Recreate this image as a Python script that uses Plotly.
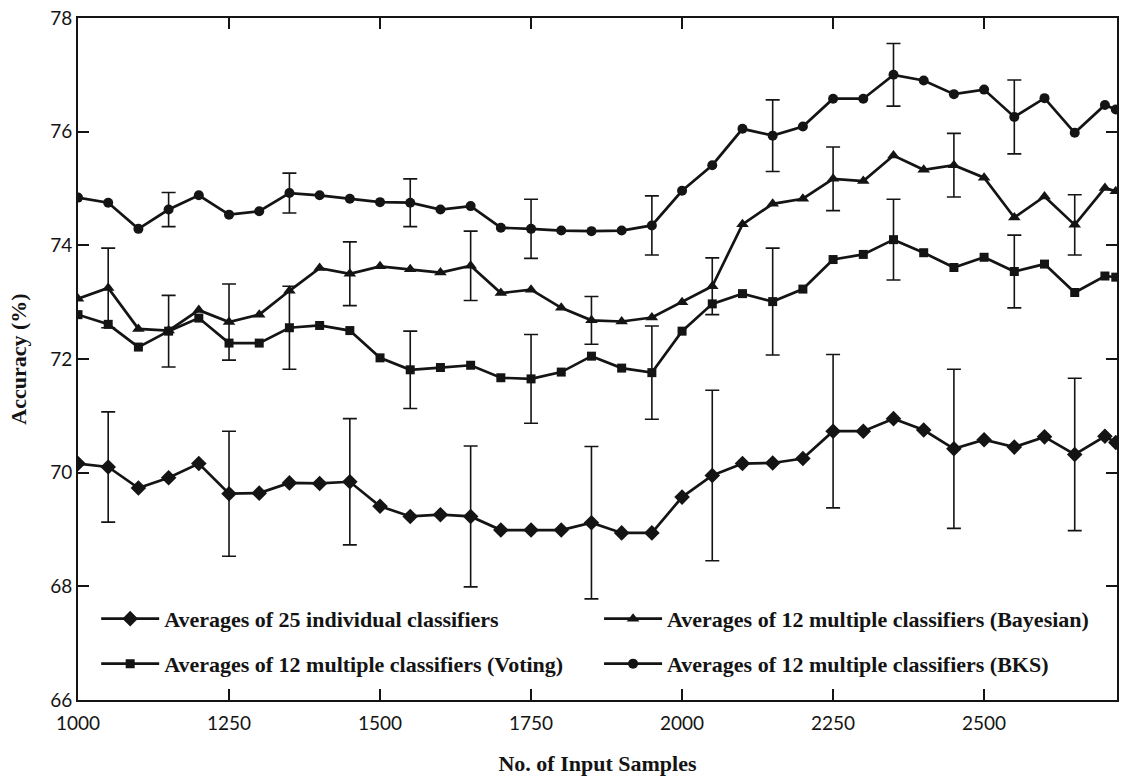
import plotly.graph_objects as go

# ---- data ----
samples = [1000, 1050, 1100, 1150, 1200, 1250, 1300, 1350, 1400, 1450,
           1500, 1550, 1600, 1650, 1700, 1750, 1800, 1850, 1900, 1950,
           2000, 2050, 2100, 2150, 2200, 2250, 2300, 2350, 2400, 2450,
           2500, 2550, 2600, 2650, 2700, 2718]

individual = [70.16, 70.10, 69.73, 69.91, 70.16, 69.63, 69.64, 69.82, 69.81, 69.84,
              69.41, 69.23, 69.26, 69.23, 68.99, 68.99, 68.99, 69.12, 68.94, 68.94,
              69.57, 69.95, 70.16, 70.17, 70.25, 70.73, 70.73, 70.95, 70.75, 70.42,
              70.58, 70.45, 70.63, 70.32, 70.64, 70.53]

bayesian = [73.06, 73.25, 72.53, 72.50, 72.86, 72.65, 72.78, 73.20, 73.60, 73.50,
            73.63, 73.58, 73.52, 73.64, 73.16, 73.22, 72.90, 72.68, 72.66, 72.73,
            73.00, 73.28, 74.37, 74.73, 74.82, 75.17, 75.13, 75.58, 75.33, 75.41,
            75.19, 74.49, 74.86, 74.36, 75.01, 74.95]

voting = [72.78, 72.61, 72.21, 72.49, 72.72, 72.28, 72.28, 72.55, 72.59, 72.50,
          72.02, 71.81, 71.85, 71.89, 71.67, 71.65, 71.77, 72.05, 71.84, 71.76,
          72.49, 72.97, 73.15, 73.01, 73.23, 73.75, 73.84, 74.10, 73.87, 73.61,
          73.79, 73.54, 73.67, 73.17, 73.46, 73.44]

bks = [74.84, 74.75, 74.29, 74.63, 74.88, 74.54, 74.60, 74.92, 74.88, 74.82,
       74.76, 74.75, 74.63, 74.69, 74.31, 74.29, 74.26, 74.25, 74.26, 74.35,
       74.96, 75.41, 76.05, 75.93, 76.09, 76.58, 76.58, 77.00, 76.90, 76.66,
       76.74, 76.26, 76.59, 75.98, 76.47, 76.39]

# error bars (sample position, +/- half range)
individual_err_x = [1050, 1250, 1450, 1650, 1850, 2050, 2250, 2450, 2650]
individual_err = [0.97, 1.10, 1.11, 1.24, 1.34, 1.50, 1.35, 1.40, 1.34]

bayesian_err_x = [1050, 1250, 1450, 1650, 1850, 2050, 2250, 2450, 2650]
bayesian_err = [0.70, 0.67, 0.56, 0.61, 0.42, 0.50, 0.56, 0.56, 0.53]

voting_err_x = [1150, 1350, 1550, 1750, 1950, 2150, 2350, 2550]
voting_err = [0.63, 0.73, 0.68, 0.78, 0.82, 0.94, 0.71, 0.64]

bks_err_x = [1150, 1350, 1550, 1750, 1950, 2150, 2350, 2550]
bks_err = [0.30, 0.35, 0.42, 0.52, 0.52, 0.63, 0.55, 0.65]

names = ["Averages of 25 individual classifiers",
         "Averages of 12 multiple classifiers (Bayesian)",
         "Averages of 12 multiple classifiers (Voting)",
         "Averages of 12 multiple classifiers (BKS)"]

x_ticks = [1000, 1250, 1500, 1750, 2000, 2250, 2500]
y_ticks = [66, 68, 70, 72, 74, 76, 78]

INK = "#141414"
series = [
    (names[0], individual, individual_err_x, individual_err, "diamond", 12, "legend"),
    (names[1], bayesian, bayesian_err_x, bayesian_err, "triangle-up", 11, "legend2"),
    (names[2], voting, voting_err_x, voting_err, "square", 9, "legend3"),
    (names[3], bks, bks_err_x, bks_err, "circle", 10, "legend4"),
]

fig = go.Figure()
for name, vals, ex, ev, sym, size, leg in series:
    lookup = dict(zip(samples, vals))
    fig.add_trace(go.Scatter(
        x=ex, y=[lookup[v] for v in ex], mode="markers",
        marker=dict(size=1, color="rgba(0,0,0,0)"),
        error_y=dict(type="data", array=ev, visible=True, color=INK,
                     thickness=1.6, width=7),
        showlegend=False, hoverinfo="skip"))
    fig.add_trace(go.Scatter(
        x=samples, y=vals, mode="lines+markers", name="<b>" + name + "</b>",
        line=dict(color=INK, width=2.7),
        marker=dict(symbol=sym, size=size, color=INK),
        legend=leg))

title_font = dict(family="Liberation Serif", size=22, color=INK)
tick_font = dict(family="Lato", size=19, color=INK)
leg_font = dict(family="Liberation Serif", size=22, color=INK)

fig.update_xaxes(range=[1000, 2720], tickvals=x_ticks, ticks="inside", ticklen=11,
                 tickwidth=1.6, tickcolor=INK, showline=True, linecolor=INK,
                 linewidth=2, mirror="ticks", showgrid=False, zeroline=False,
                 tickfont=tick_font, ticklabelstandoff=5,
                 title=dict(text="<b>No. of Input Samples</b>", font=title_font, standoff=23))
fig.update_yaxes(range=[66, 78], tickvals=y_ticks, ticks="inside", ticklen=11,
                 tickwidth=1.6, tickcolor=INK, showline=True, linecolor=INK,
                 linewidth=2, mirror="ticks", showgrid=False, zeroline=False,
                 tickfont=tick_font,
                 title=dict(text="<b>Accuracy (%)</b>", font=title_font, standoff=17))

def leg(x, y):
    return dict(x=x, y=y, xanchor="left", yanchor="middle", xref="paper", yref="paper",
                bgcolor="rgba(0,0,0,0)", borderwidth=0, font=leg_font, itemwidth=58)

fig.update_layout(
    width=1121, height=782,
    margin=dict(l=78, r=2, t=18, b=82),
    paper_bgcolor="white", plot_bgcolor="white",
    showlegend=True,
    legend=leg(0.0175, 0.119),
    legend2=leg(0.5015, 0.119),
    legend3=leg(0.0175, 0.053),
    legend4=leg(0.5015, 0.053),
)

fig.write_html("out.html")
